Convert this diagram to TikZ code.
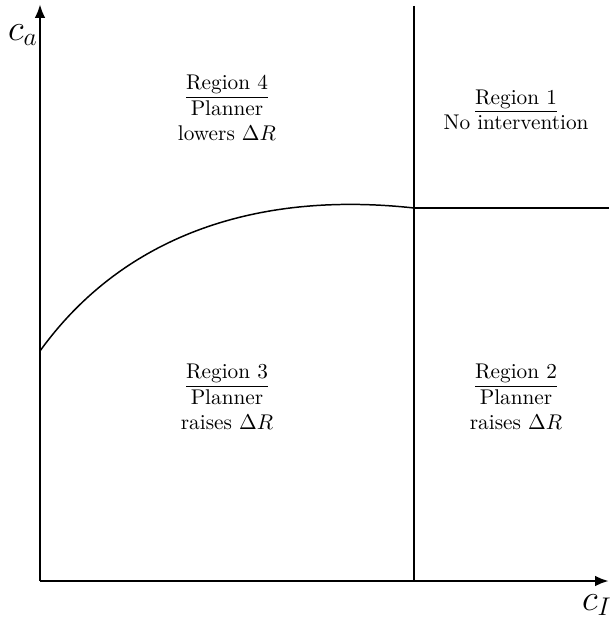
\documentclass[tikz,border=0pt]{standalone}
\usetikzlibrary{arrows.meta}
\begin{document}
\begin{tikzpicture}[x=0.47pt,y=-0.47pt,
  axis/.style={line width=1.3pt,-{Latex[length=6.5pt,width=5pt]}},
  divider/.style={line width=0.9pt},
  curve/.style={line width=0.7pt},
  lbl/.style={align=center,inner sep=0pt,font=\normalsize}]
\useasboundingbox (0,0) rectangle (609,619);
\coordinate (O) at (40,581);
\coordinate (Ytop) at (40,4);
\coordinate (Xend) at (609,581);
\coordinate (Vtop) at (414,6);
\coordinate (Vbot) at (414,581);
\coordinate (K) at (414,208);
\coordinate (Hend) at (609,208);
\coordinate (C0) at (40,351);
\draw[axis] (O) -- (Ytop);
\draw[axis] (O) -- (Xend);
\draw[divider] (Vtop) -- (Vbot);
\draw[divider] (K) -- (Hend);
\draw[curve] (C0) .. controls (120,240) and (250,190) .. (K);
\node[font=\LARGE] (ca) at (23,35) {$c_a$};
\node[font=\LARGE] (cI) at (597,605) {$c_I$};
\node[lbl] (r4) at (227,108) {\underline{Region 4}\\Planner\\lowers $\Delta R$};
\node[lbl] (r1) at (516,110) {\underline{Region 1}\\No intervention};
\node[lbl] (r3) at (227,397) {\underline{Region 3}\\Planner\\raises $\Delta R$};
\node[lbl] (r2) at (516,397) {\underline{Region 2}\\Planner\\raises $\Delta R$};
\end{tikzpicture}
\end{document}
